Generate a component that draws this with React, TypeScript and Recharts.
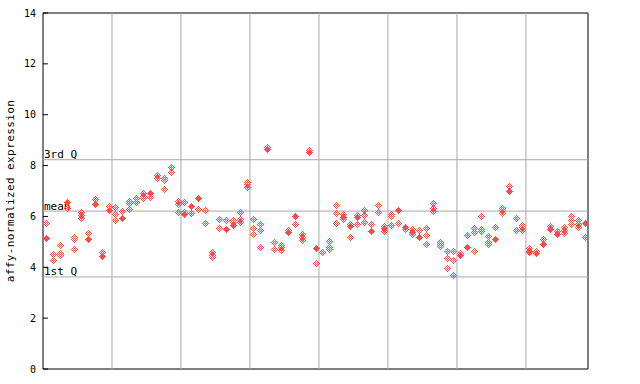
import React from 'react';
import { ScatterChart, Scatter, XAxis, YAxis, ReferenceLine, ReferenceArea } from 'recharts';

// expression values per sample (index 0..78); hatched markers and solid markers
const hatchedValues: number[][] = [
  [5.74], [4.53, 4.3], [4.88, 4.56, 4.48], [6.32], [5.19, 5.11, 4.72],
  [6.18, 6.05, 5.93], [5.35], [6.68], [4.6], [6.42],
  [6.37, 6.08, 5.84], [6.21], [6.61, 6.53, 6.29], [6.71, 6.55], [6.94, 6.81, 6.71],
  [6.76], [7.62, 7.52], [7.5, 7.42, 7.08], [7.94, 7.73], [6.6, 6.5, 6.18],
  [6.58, 6.19], [6.13], [6.29], [6.26, 5.74], [4.59, 4.5, 4.42],
  [5.9, 5.53], [5.87], [5.87, 5.79], [6.19, 5.9, 5.79], [7.37, 7.26, 7.16],
  [5.9, 5.56, 5.32], [5.71, 5.48, 4.8], [8.75], [5.01, 4.72], [4.88, 4.78, 4.68],
  [5.45], [5.69], [5.3, 5.19, 5.08], [8.6], [4.17],
  [4.59], [5.03, 4.8, 4.72], [6.45, 6.13, 5.74], [6.08, 5.9], [5.71, 5.19],
  [6.06, 5.71], [6.26, 6.06, 5.79], [5.71], [6.45, 6.19], [5.61, 5.43],
  [6.11, 6.0, 5.66], [5.74], [5.51], [5.51, 5.32], [5.48],
  [5.53, 5.27, 4.93], [6.53, 6.32, 6.21], [5.01, 4.9, 4.82], [4.64, 4.35, 3.98], [4.66, 4.3, 3.7],
  [4.58], [5.27], [5.53, 5.4, 4.64], [6.03, 5.51, 5.43], [5.24, 5.01, 4.9],
  [5.58], [6.34, 6.24, 6.13], [7.21], [5.95, 5.48], [5.66, 5.58, 5.48],
  [4.74, 4.66, 4.59], [4.66], [5.11], [5.64], [5.43],
  [5.58, 5.48, 5.35], [6.03, 5.84, 5.71], [5.84, 5.71, 5.58], [5.19],
];

const solidValues: number[][] = [
  [5.14], [], [], [6.55], [],
  [], [5.11], [6.5], [4.45], [6.24],
  [], [5.92], [], [], [],
  [6.94], [], [], [], [],
  [6.08], [6.4], [6.74], [], [],
  [], [5.51], [5.66], [], [],
  [], [], [8.65], [], [],
  [5.37], [6.02], [], [8.52], [4.76],
  [], [], [], [5.98], [5.64],
  [5.98], [], [5.43], [], [5.53],
  [], [6.26], [5.58], [5.4], [5.19],
  [], [], [], [], [],
  [4.5], [4.8], [], [], [],
  [5.11], [], [7.0], [], [],
  [], [4.56], [4.93], [5.51], [5.3],
  [], [], [], [5.74],
];

const yTicks = [0, 2, 4, 6, 8, 10, 12, 14];
const groupBoundaries = [9.5, 19.5, 29.5, 39.5, 49.5, 59.5, 69.5];
const quartileLabels = ['3rd Q', 'mean', '1st Q'];
const quartileValues = [8.23, 6.21, 3.62];
const yLabel = 'affy-normalized expression';

const toPoints = (vals: number[][]) =>
  vals.flatMap((list, i) => list.map((v) => ({ x: i, y: v })));

const hatchedPoints = toPoints(hatchedValues);
const solidPoints = toPoints(solidValues);

const RED = '#ff4a4a';
const GRID = '#a8a8a8';
const MONO = '"DejaVu Sans Mono", monospace';

const makeDiamond = (filled: boolean) => (props: any) => {
  const cx = Math.round(props.cx);
  const cy = Math.round(props.cy);
  const rects: React.ReactNode[] = [];
  for (let dy = -3; dy <= 3; dy++) {
    const w = 3 - Math.abs(dy);
    for (let dx = -w; dx <= w; dx++) {
      if (filled || Math.abs(dx + dy) % 2 === 1) {
        rects.push(
          <rect key={`${dx}_${dy}`} x={cx + dx} y={cy + dy} width={1} height={1} fill={RED} />
        );
      }
    }
  }
  return <g shapeRendering="crispEdges">{rects}</g>;
};

const LeftTick = (props: any) => {
  const { x, y, payload } = props;
  return (
    <g>
      <line x1={x} x2={x + 5} y1={y} y2={y} stroke="#000" strokeWidth={1} />
      <text x={x - 7} y={y} dy="0.35em" textAnchor="end" fontFamily={MONO} fontSize={10} fill="#000">
        {payload.value}
      </text>
    </g>
  );
};

const RightTick = (props: any) => {
  const { x, y } = props;
  return <line x1={x} x2={x - 5} y1={y} y2={y} stroke="#000" strokeWidth={1} />;
};

export default function App() {
  return (
    <div style={{ position: 'absolute', left: 0, top: 0, background: '#fff' }}>
      <ScatterChart width={640} height={384} margin={{ top: 13, right: 51, bottom: 15, left: 0 }}>
        <XAxis type="number" dataKey="x" domain={[-0.5, 78.5]} hide allowDataOverflow />
        <YAxis
          yAxisId="left"
          type="number"
          dataKey="y"
          domain={[0, 14]}
          ticks={yTicks}
          interval={0}
          width={43}
          axisLine={false}
          tickLine={false}
          tickSize={0}
          tickMargin={0}
          tick={<LeftTick />}
          label={{
            content: (p: any) => {
              const vb = p.viewBox || { x: 0, y: 13, width: 43, height: 356 };
              const cx = vb.x + 14;
              const cy = vb.y + vb.height / 2;
              return (
                <text
                  x={cx}
                  y={cy}
                  transform={`rotate(-90 ${cx} ${cy})`}
                  textAnchor="middle"
                  fontFamily={MONO}
                  fontSize={11}
                  letterSpacing={0.4}
                  fill="#000"
                >
                  {yLabel}
                </text>
              );
            },
          }}
        />
        <YAxis
          yAxisId="right"
          orientation="right"
          type="number"
          domain={[0, 14]}
          ticks={yTicks}
          interval={0}
          width={1}
          axisLine={false}
          tickLine={false}
          tickSize={0}
          tickMargin={0}
          tick={<RightTick />}
        />
        {groupBoundaries.map((b) => (
          <ReferenceLine key={b} x={b} yAxisId="left" stroke={GRID} strokeWidth={1} />
        ))}
        {quartileValues.map((q, i) => (
          <ReferenceLine
            key={quartileLabels[i]}
            y={q}
            yAxisId="left"
            stroke={GRID}
            strokeWidth={1}
            label={{
              content: (p: any) => {
                const vb = p.viewBox || { x: 43, y: 0 };
                return (
                  <text x={vb.x + 1} y={vb.y - 1.5} fontFamily={MONO} fontSize={11} fill="#000">
                    {quartileLabels[i]}
                  </text>
                );
              },
            }}
          />
        ))}
        <ReferenceArea
          x1={-0.5}
          x2={78.5}
          y1={0}
          y2={14}
          yAxisId="left"
          fill="none"
          fillOpacity={0}
          stroke="#000"
          strokeWidth={1}
        />
        <Scatter
          yAxisId="left"
          data={hatchedPoints}
          shape={makeDiamond(false)}
          isAnimationActive={false}
        />
        <Scatter
          yAxisId="left"
          data={solidPoints}
          shape={makeDiamond(true)}
          isAnimationActive={false}
        />
      </ScatterChart>
    </div>
  );
}
